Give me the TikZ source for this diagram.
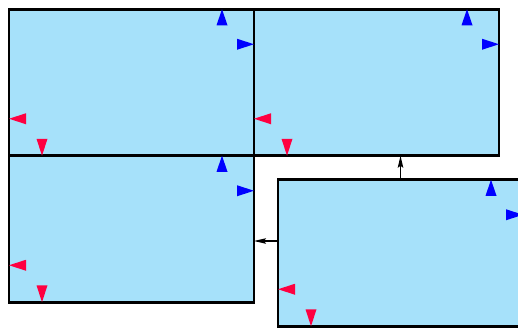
\documentclass[tikz,border=0pt]{standalone}
\usepackage{xcolor}
\usetikzlibrary{arrows.meta,calc}
\definecolor{paneblue}{RGB}{166,225,250}
\definecolor{markred}{RGB}{255,0,64}

\begin{document}
\begin{tikzpicture}[
    x=1pt, y=-1pt,
    >=Stealth,
    pane/.style={draw, line width=2.6pt, fill=paneblue, outer sep=0pt,
                 minimum width=245pt, minimum height=146.5pt, inner sep=0pt},
    bluemark/.style={fill=blue},
    redmark/.style={fill=markred},
    arr/.style={-{Stealth[length=12pt,width=5.5pt,inset=2pt]}, line width=1.2pt}
]
\useasboundingbox (0,0) rectangle (518,327);

\node[pane] (tl) at (131.5,82.5) {};
\node[pane] (tr) at (376.5,82.5) {};
\node[pane] (bl) at (131.5,229) {};
\node[pane] (br) at (400.5,253) {};

% corner marks of every pane
\foreach \p in {tl,tr,bl,br} {
  \fill[bluemark] ([xshift=-32pt]\p.north east) -- ++(-5.5,16) -- ++(11,0) -- cycle;
  \fill[bluemark] ([yshift=-35pt]\p.north east) -- ++(-17,-5.5) -- ++(0,11) -- cycle;
  \fill[redmark] ([yshift=37pt]\p.south west) -- ++(17,-5.5) -- ++(0,11) -- cycle;
  \fill[redmark] ([xshift=33pt]\p.south west) -- ++(-5.5,-17) -- ++(11,0) -- cycle;
}

\draw[arr] (br.north) -- (br.north |- tr.south);
\draw[arr] ([yshift=12pt]br.west) -- ([yshift=12pt]br.west -| bl.east);
\end{tikzpicture}
\end{document}
